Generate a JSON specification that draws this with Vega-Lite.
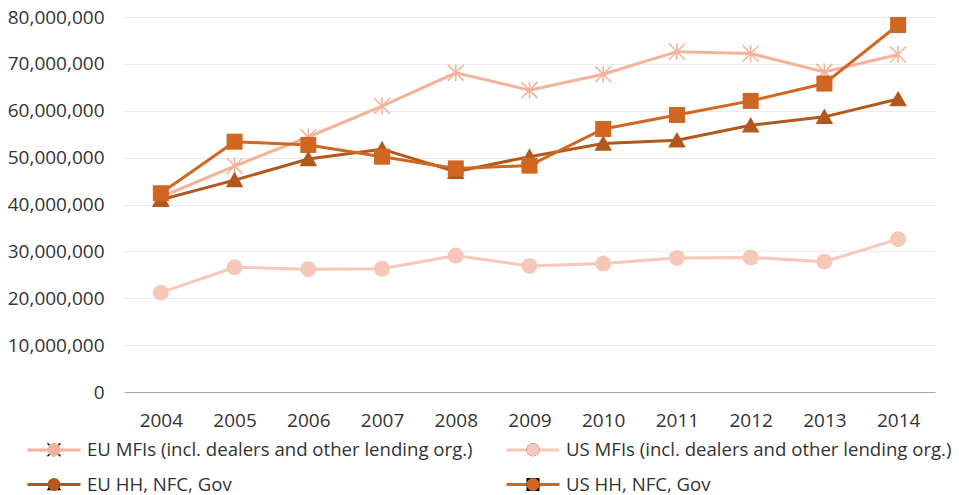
{
  "$schema": "https://vega.github.io/schema/vega-lite/v6.json",
  "width": 811,
  "height": 375,
  "autosize": "none",
  "padding": {"left": 124, "top": 17, "right": 24, "bottom": 103},
  "background": "white",
  "config": {
    "font": "Open Sans",
    "view": {"stroke": null},
    "axis": {"labelFont": "Open Sans", "labelFontSize": 19, "labelColor": "#333333", "ticks": false, "title": null}
  },
  "data": {
    "values": [
      {"year": "2004", "series": "EU MFIs (incl. dealers and other lending org.)", "value": 41600000},
      {"year": "2005", "series": "EU MFIs (incl. dealers and other lending org.)", "value": 48200000},
      {"year": "2006", "series": "EU MFIs (incl. dealers and other lending org.)", "value": 54400000},
      {"year": "2007", "series": "EU MFIs (incl. dealers and other lending org.)", "value": 61000000},
      {"year": "2008", "series": "EU MFIs (incl. dealers and other lending org.)", "value": 68100000},
      {"year": "2009", "series": "EU MFIs (incl. dealers and other lending org.)", "value": 64400000},
      {"year": "2010", "series": "EU MFIs (incl. dealers and other lending org.)", "value": 67800000},
      {"year": "2011", "series": "EU MFIs (incl. dealers and other lending org.)", "value": 72600000},
      {"year": "2012", "series": "EU MFIs (incl. dealers and other lending org.)", "value": 72200000},
      {"year": "2013", "series": "EU MFIs (incl. dealers and other lending org.)", "value": 68300000},
      {"year": "2014", "series": "EU MFIs (incl. dealers and other lending org.)", "value": 72000000},
      {"year": "2004", "series": "US MFIs (incl. dealers and other lending org.)", "value": 21200000},
      {"year": "2005", "series": "US MFIs (incl. dealers and other lending org.)", "value": 26600000},
      {"year": "2006", "series": "US MFIs (incl. dealers and other lending org.)", "value": 26200000},
      {"year": "2007", "series": "US MFIs (incl. dealers and other lending org.)", "value": 26300000},
      {"year": "2008", "series": "US MFIs (incl. dealers and other lending org.)", "value": 29100000},
      {"year": "2009", "series": "US MFIs (incl. dealers and other lending org.)", "value": 26900000},
      {"year": "2010", "series": "US MFIs (incl. dealers and other lending org.)", "value": 27400000},
      {"year": "2011", "series": "US MFIs (incl. dealers and other lending org.)", "value": 28600000},
      {"year": "2012", "series": "US MFIs (incl. dealers and other lending org.)", "value": 28700000},
      {"year": "2013", "series": "US MFIs (incl. dealers and other lending org.)", "value": 27800000},
      {"year": "2014", "series": "US MFIs (incl. dealers and other lending org.)", "value": 32600000},
      {"year": "2004", "series": "EU HH, NFC, Gov", "value": 41000000},
      {"year": "2005", "series": "EU HH, NFC, Gov", "value": 45200000},
      {"year": "2006", "series": "EU HH, NFC, Gov", "value": 49700000},
      {"year": "2007", "series": "EU HH, NFC, Gov", "value": 51800000},
      {"year": "2008", "series": "EU HH, NFC, Gov", "value": 47000000},
      {"year": "2009", "series": "EU HH, NFC, Gov", "value": 50200000},
      {"year": "2010", "series": "EU HH, NFC, Gov", "value": 53000000},
      {"year": "2011", "series": "EU HH, NFC, Gov", "value": 53700000},
      {"year": "2012", "series": "EU HH, NFC, Gov", "value": 56900000},
      {"year": "2013", "series": "EU HH, NFC, Gov", "value": 58700000},
      {"year": "2014", "series": "EU HH, NFC, Gov", "value": 62500000},
      {"year": "2004", "series": "US HH, NFC, Gov", "value": 42400000},
      {"year": "2005", "series": "US HH, NFC, Gov", "value": 53400000},
      {"year": "2006", "series": "US HH, NFC, Gov", "value": 52700000},
      {"year": "2007", "series": "US HH, NFC, Gov", "value": 50200000},
      {"year": "2008", "series": "US HH, NFC, Gov", "value": 47700000},
      {"year": "2009", "series": "US HH, NFC, Gov", "value": 48300000},
      {"year": "2010", "series": "US HH, NFC, Gov", "value": 56100000},
      {"year": "2011", "series": "US HH, NFC, Gov", "value": 59100000},
      {"year": "2012", "series": "US HH, NFC, Gov", "value": 62100000},
      {"year": "2013", "series": "US HH, NFC, Gov", "value": 65800000},
      {"year": "2014", "series": "US HH, NFC, Gov", "value": 78300000}
    ]
  },
  "encoding": {
    "x": {
      "field": "year", "type": "ordinal",
      "scale": {"type": "point", "padding": 0.5},
      "axis": {"labelAngle": 0, "labelPadding": 19, "domainColor": "#A6A6A6", "domainWidth": 1, "grid": false}
    },
    "y": {
      "field": "value", "type": "quantitative",
      "scale": {"domain": [0, 80000000], "nice": false},
      "axis": {"format": ",d", "values": [0, 10000000, 20000000, 30000000, 40000000, 50000000, 60000000, 70000000, 80000000], "labelOverlap": false, "labelPadding": 20, "domain": false, "grid": true, "gridColor": "#EBEBEB", "gridWidth": 1}
    }
  },
  "layer": [
    {
      "mark": {"type": "line", "strokeWidth": 3},
      "encoding": {
        "color": {
          "field": "series", "type": "nominal",
          "scale": {
            "domain": ["EU MFIs (incl. dealers and other lending org.)", "US MFIs (incl. dealers and other lending org.)", "EU HH, NFC, Gov", "US HH, NFC, Gov"],
            "range": ["#F4B29A", "#F6C8B8", "#B3581C", "#D0661F"]
          },
          "legend": {
            "orient": "none", "direction": "horizontal", "legendX": -98, "legendY": 423, "columns": 2, "title": null,
            "labelFont": "Open Sans", "labelFontSize": 18.6, "labelColor": "#333333", "labelLimit": 0,
            "labelOffset": 5, "symbolType": "stroke", "symbolSize": 2809, "symbolStrokeWidth": 3, "clipHeight": 19,
            "rowPadding": 15, "columnPadding": 32, "padding": 0
          }
        }
      }
    },
    {
      "mark": {"type": "point", "filled": true, "opacity": 1, "size": 256, "strokeWidth": 0},
      "encoding": {
        "fill": {
          "field": "series", "type": "nominal",
          "sort": ["EU MFIs (incl. dealers and other lending org.)", "US MFIs (incl. dealers and other lending org.)", "EU HH, NFC, Gov", "US HH, NFC, Gov"],
          "scale": {"range": ["#F4B29A", "#F6C8B8", "#B3581C", "#D0661F"]},
          "legend": {
            "orient": "none", "direction": "horizontal", "legendX": -79.5, "legendY": 423, "columns": 2, "title": null,
            "labelFont": "Open Sans", "labelFontSize": 19, "labelColor": "transparent", "labelLimit": 0, "labelExpr": "''",
            "labelOffset": 0, "symbolSize": 169, "symbolStrokeWidth": 0, "symbolOpacity": 1,
            "rowPadding": 15, "columnPadding": 460, "padding": 0
          }
        },
        "shape": {
          "field": "series", "type": "nominal",
          "sort": ["EU MFIs (incl. dealers and other lending org.)", "US MFIs (incl. dealers and other lending org.)", "EU HH, NFC, Gov", "US HH, NFC, Gov"],
          "scale": {
            "range": ["M-0.93,-1.07L1.07,0.93L0.93,1.07L-1.07,-0.93ZM-1.07,0.93L0.93,-1.07L1.07,-0.93L-0.93,1.07ZM-0.1,-1.05L0.1,-1.05L0.1,1.05L-0.1,1.05Z", "circle", "M0,-1.05L1.1,0.9L-1.1,0.9Z", "square"]
          },
          "legend": {
            "orient": "none", "direction": "horizontal", "legendX": -79.5, "legendY": 423, "columns": 2, "title": null,
            "labelFont": "Open Sans", "labelFontSize": 19, "labelColor": "transparent", "labelLimit": 0, "labelExpr": "''",
            "labelOffset": 0, "symbolSize": 169, "symbolStrokeWidth": 0, "symbolOpacity": 1,
            "rowPadding": 15, "columnPadding": 460, "padding": 0
          }
        }
      }
    }
  ]
}
